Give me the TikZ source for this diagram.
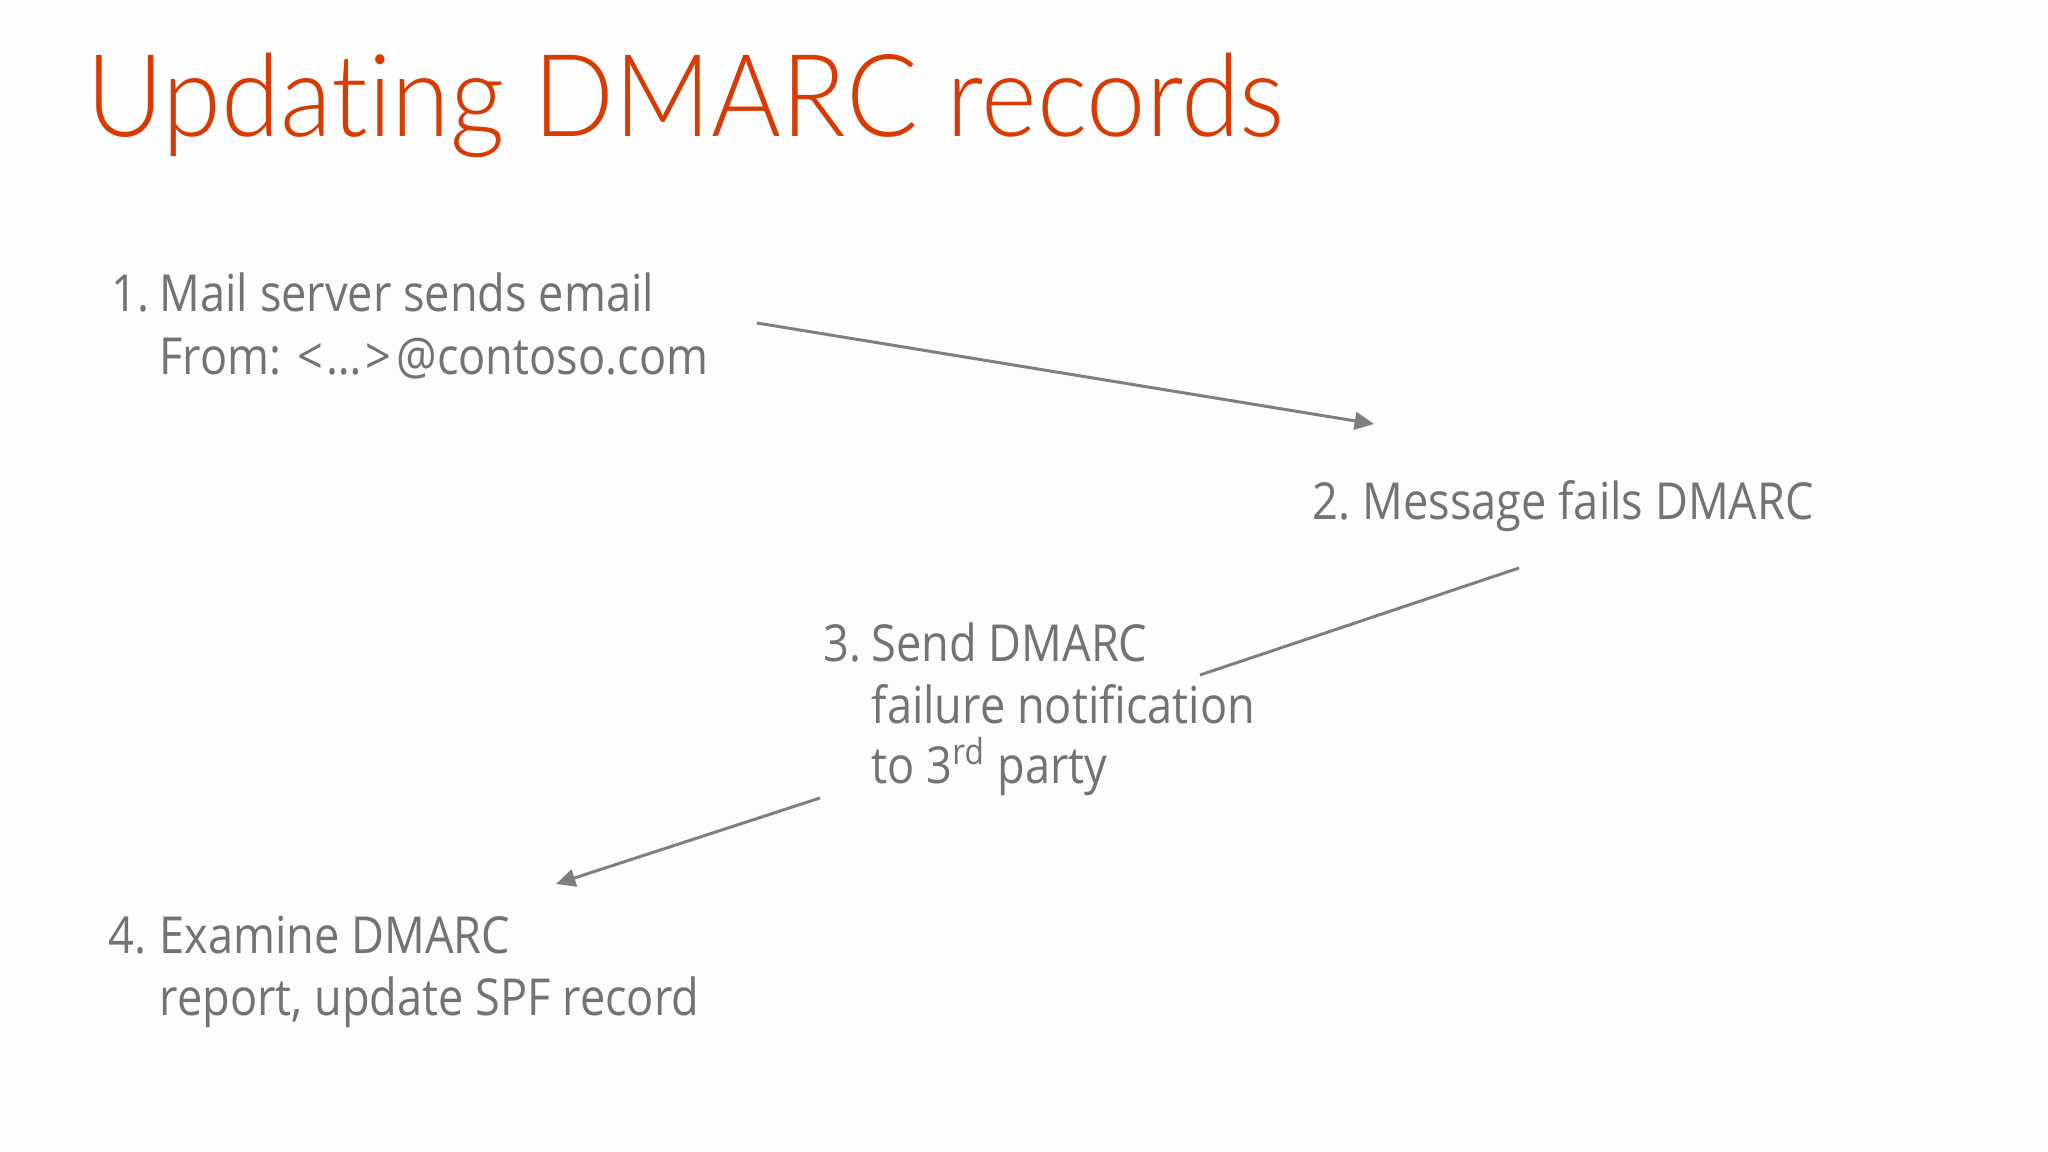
\documentclass[tikz,border=0pt]{standalone}
\usepackage{fontspec}
\setmainfont{Open Sans}[FakeStretch=0.885]
\newfontfamily\titlefont{Lato}[UprightFont={* Light},FakeStretch=0.93,Ligatures=NoCommon]
\usetikzlibrary{arrows.meta}
\definecolor{titleorange}{HTML}{D83B01}
\definecolor{txtgray}{HTML}{737373}
\definecolor{linegray}{HTML}{7F7F7F}
\definecolor{bgcol}{HTML}{FDFDFD}
\begin{document}
\begin{tikzpicture}[x=0.01cm,y=-0.01cm,
  body/.style={anchor=base west, inner sep=0pt, text=txtgray, font=\fontsize{14.5}{17.6}\selectfont},
  titletext/.style={anchor=base west, inner sep=0pt, text=titleorange, font=\titlefont\fontsize{32.6}{38}\selectfont},
  conn/.style={draw=linegray, line width=0.85pt},
  arr/.style={conn, -{Triangle[length=5.5pt,width=5pt]}}]
\fill[bgcol] (0,0) rectangle (2048,1152);
\node[titletext] (title) at (86,137) {Updating DMARC records};
% block 1
\node[body] (n1) at (111,312) {1.};
\node[body] (s1a) at (159,312) {Mail server sends email};
\node[body] (s1b) at (159,375) {From: <\kern1pt\ldots\kern1pt>\kern1.5pt@contoso.com};
% block 2
\node[body] (n2) at (1312,520) {2.};
\node[body] (s2a) at (1362,520) {Message fails DMARC};
% block 3
\node[body] (n3) at (823,662) {3.};
\node[body] (s3a) at (871,662) {Send DMARC};
\node[body] (s3b) at (871,723) {failure notification};
\node[body] (s3c) at (871,783) {to 3\textsuperscript{rd} party};
% block 4
\node[body] (n4) at (108,953) {4.};
\node[body] (s4a) at (159,953) {Examine DMARC};
\node[body] (s4b) at (159,1015) {report, update SPF record};
% connectors
\coordinate (c1a) at (757,323);
\coordinate (c1b) at (1374,424);
\coordinate (c2a) at (1519,568);
\coordinate (c2b) at (1200,675);
\coordinate (c3a) at (820,798);
\coordinate (c3b) at (556,884);
\draw[arr] (c1a) -- (c1b);
\draw[conn] (c2a) -- (c2b);
\draw[arr] (c3a) -- (c3b);
\end{tikzpicture}
\end{document}
